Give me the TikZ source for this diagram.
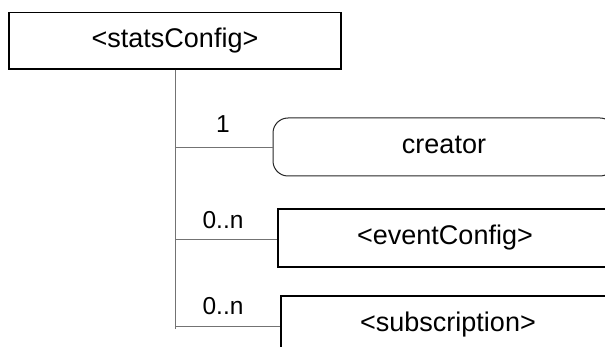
\documentclass[tikz,border=0pt]{standalone}
\usepackage{fontspec}
\setmainfont{Liberation Sans}
\begin{document}
\begin{tikzpicture}[x=1pt,y=-1pt,
  elembox/.style={draw=black,line width=1.4pt,fill=white,inner sep=0pt,
    text height=13.5pt,text depth=0pt,font=\fontsize{27}{29}\selectfont},
  roundbox/.style={draw=black!85,line width=1pt,rounded corners=15pt,inner sep=0pt,
    text height=13.5pt,text depth=0pt,font=\fontsize{27}{29}\selectfont},
  conn/.style={draw=black!55,line width=1pt},
  mult/.style={anchor=base,inner sep=0pt,font=\fontsize{24.5}{26}\selectfont}]
\useasboundingbox (0,0) rectangle (605,347);
\clip (0,0) rectangle (605,347);
\node[elembox,minimum width=332pt,minimum height=56.5pt] (stats) at (175,40.8) {<statsConfig>};
\node[roundbox,minimum width=342pt,minimum height=58pt] (creator) at (444,147) {creator};
\node[elembox,minimum width=334pt,minimum height=58pt] (event) at (445,238) {<eventConfig>};
\node[elembox,minimum width=334pt,minimum height=58pt] (subs) at (448,325) {<subscription>};
\coordinate (trunkend) at (175,329);
\coordinate (t1) at (175,148);
\coordinate (t2) at (175,240);
\coordinate (t3) at (175,326);
\draw[conn] (stats.south) -- (trunkend);
\draw[conn] (t1) -- (t1 -| creator.west);
\draw[conn] (t2) -- (t2 -| event.west);
\draw[conn] (t3) -- (t3 -| subs.west);
\node[mult] (m1) at (223,133) {1};
\node[mult] (m2) at (223,228.3) {0..n};
\node[mult] (m3) at (223,315) {0..n};
\end{tikzpicture}
\end{document}
